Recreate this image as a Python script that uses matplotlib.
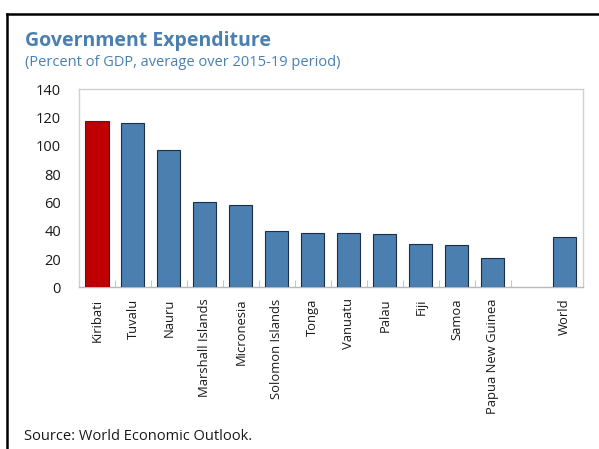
import matplotlib
matplotlib.use("Agg")
import matplotlib.pyplot as plt
from matplotlib.lines import Line2D

plt.rcParams['font.family'] = ['Open Sans', 'DejaVu Sans']

countries = ["Kiribati", "Tuvalu", "Nauru", "Marshall Islands", "Micronesia",
             "Solomon Islands", "Tonga", "Vanuatu", "Palau", "Fiji", "Samoa",
             "Papua New Guinea", "", "World"]
expenditure = [117.4, 116.2, 97.1, 60.1, 58.0, 39.8, 38.5, 38.2, 37.5, 30.8,
               29.9, 20.7, None, 35.6]
highlight = "Kiribati"
y_ticks = [0, 20, 40, 60, 80, 100, 120, 140]

blue = "#4a7fb0"
red = "#c00000"
edge = "#1c2f45"
title_blue = "#4a7fb0"

fig = plt.figure(figsize=(5.99, 4.49), dpi=100)
ax = fig.add_axes([0.1319, 0.360, 0.8409, 0.441])

xs = list(range(len(countries)))
for x, name, val in zip(xs, countries, expenditure):
    if val is None:
        continue
    ax.bar(x, val, width=0.64, color=red if name == highlight else blue,
           edgecolor=edge, linewidth=0.8, zorder=3)

ax.set_xlim(-0.5, len(countries) - 0.5)
ax.set_ylim(0, 140)
ax.set_yticks(y_ticks)
ax.set_yticklabels([str(v) for v in y_ticks], fontsize=10.5, color="#1a1a1a")
ax.tick_params(axis="y", length=0, pad=13)

ax.set_xticks(xs)
ax.set_xticklabels(countries, rotation=90, fontsize=9.4, color="#1a1a1a")
ax.tick_params(axis="x", which="major", length=0, pad=8)
ax.set_xticks([x + 0.5 for x in xs[:-2]], minor=True)
ax.tick_params(axis="x", which="minor", direction="in", length=5,
               color="#c8c8c8", width=0.8)

for s in ax.spines.values():
    s.set_color("#d0d0d0")
    s.set_linewidth(1.0)
ax.spines["bottom"].set_color("#b8b8b8")

fig.text(25 / 599, 1 - 41 / 449, "Government Expenditure", fontsize=14,
         fontweight="bold", color=title_blue, va="center", ha="left")
fig.text(25 / 599, 1 - 63 / 449, "(Percent of GDP, average over 2015-19 period)",
         fontsize=10.5, color=title_blue, va="center", ha="left")
fig.text(24 / 599, 1 - 437 / 449, "Source: World Economic Outlook.",
         fontsize=10.5, color="#1a1a1a", va="center", ha="left")

# outer box: top rule and left rule
fig.add_artist(Line2D([7 / 599, 1.0], [1 - 14 / 449, 1 - 14 / 449],
                      transform=fig.transFigure, color="black", linewidth=1.8))
fig.add_artist(Line2D([7 / 599, 7 / 599], [0.0, 1 - 14 / 449],
                      transform=fig.transFigure, color="black", linewidth=1.8))

fig.savefig("out.png", dpi=100)
